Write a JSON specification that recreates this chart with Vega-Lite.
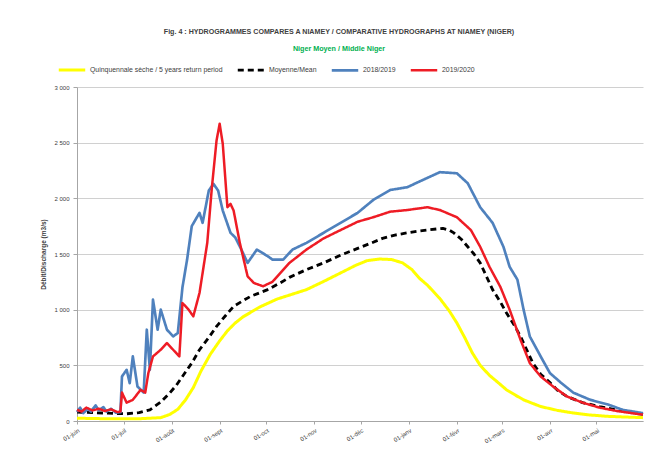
{
  "$schema": "https://vega.github.io/schema/vega-lite/v6.json",
  "width": 566,
  "height": 334,
  "autosize": {"type": "none"},
  "padding": {"left": 77, "top": 87, "right": 16, "bottom": 36},
  "background": "white",
  "title": {
    "text": "Fig. 4 : HYDROGRAMMES COMPARES A NIAMEY / COMPARATIVE HYDROGRAPHS AT NIAMEY (NIGER)",
    "subtitle": "Niger Moyen / Middle Niger",
    "anchor": "middle",
    "font": "Liberation Sans",
    "fontSize": 7.1,
    "fontWeight": "bold",
    "color": "#404040",
    "subtitleFont": "Liberation Sans",
    "subtitleFontSize": 7.2,
    "subtitleFontWeight": "bold",
    "subtitleColor": "#00b050",
    "subtitlePadding": 10,
    "offset": 3,
    "dx": -21
  },
  "config": {
    "view": {"stroke": null},
    "font": "Liberation Sans"
  },
  "data": {
    "values": [
      {"serie": "Quinquennale sèche / 5 years return period", "date": "2019-06-01", "debit": 25},
      {"serie": "Quinquennale sèche / 5 years return period", "date": "2019-06-21", "debit": 20},
      {"serie": "Quinquennale sèche / 5 years return period", "date": "2019-07-11", "debit": 20},
      {"serie": "Quinquennale sèche / 5 years return period", "date": "2019-07-25", "debit": 30},
      {"serie": "Quinquennale sèche / 5 years return period", "date": "2019-07-31", "debit": 60},
      {"serie": "Quinquennale sèche / 5 years return period", "date": "2019-08-05", "debit": 105},
      {"serie": "Quinquennale sèche / 5 years return period", "date": "2019-08-10", "debit": 190},
      {"serie": "Quinquennale sèche / 5 years return period", "date": "2019-08-15", "debit": 300},
      {"serie": "Quinquennale sèche / 5 years return period", "date": "2019-08-20", "debit": 450},
      {"serie": "Quinquennale sèche / 5 years return period", "date": "2019-08-26", "debit": 600},
      {"serie": "Quinquennale sèche / 5 years return period", "date": "2019-09-01", "debit": 720},
      {"serie": "Quinquennale sèche / 5 years return period", "date": "2019-09-06", "debit": 810},
      {"serie": "Quinquennale sèche / 5 years return period", "date": "2019-09-11", "debit": 880},
      {"serie": "Quinquennale sèche / 5 years return period", "date": "2019-09-16", "debit": 935},
      {"serie": "Quinquennale sèche / 5 years return period", "date": "2019-09-27", "debit": 1025},
      {"serie": "Quinquennale sèche / 5 years return period", "date": "2019-10-08", "debit": 1095},
      {"serie": "Quinquennale sèche / 5 years return period", "date": "2019-10-27", "debit": 1180},
      {"serie": "Quinquennale sèche / 5 years return period", "date": "2019-11-08", "debit": 1260},
      {"serie": "Quinquennale sèche / 5 years return period", "date": "2019-11-18", "debit": 1330},
      {"serie": "Quinquennale sèche / 5 years return period", "date": "2019-11-28", "debit": 1400},
      {"serie": "Quinquennale sèche / 5 years return period", "date": "2019-12-05", "debit": 1440},
      {"serie": "Quinquennale sèche / 5 years return period", "date": "2019-12-13", "debit": 1455},
      {"serie": "Quinquennale sèche / 5 years return period", "date": "2019-12-21", "debit": 1450},
      {"serie": "Quinquennale sèche / 5 years return period", "date": "2019-12-28", "debit": 1420},
      {"serie": "Quinquennale sèche / 5 years return period", "date": "2020-01-03", "debit": 1360},
      {"serie": "Quinquennale sèche / 5 years return period", "date": "2020-01-08", "debit": 1280},
      {"serie": "Quinquennale sèche / 5 years return period", "date": "2020-01-13", "debit": 1220},
      {"serie": "Quinquennale sèche / 5 years return period", "date": "2020-01-17", "debit": 1160},
      {"serie": "Quinquennale sèche / 5 years return period", "date": "2020-01-21", "debit": 1100},
      {"serie": "Quinquennale sèche / 5 years return period", "date": "2020-01-27", "debit": 990},
      {"serie": "Quinquennale sèche / 5 years return period", "date": "2020-02-01", "debit": 880},
      {"serie": "Quinquennale sèche / 5 years return period", "date": "2020-02-06", "debit": 750},
      {"serie": "Quinquennale sèche / 5 years return period", "date": "2020-02-11", "debit": 610},
      {"serie": "Quinquennale sèche / 5 years return period", "date": "2020-02-16", "debit": 500},
      {"serie": "Quinquennale sèche / 5 years return period", "date": "2020-02-22", "debit": 410},
      {"serie": "Quinquennale sèche / 5 years return period", "date": "2020-02-28", "debit": 340},
      {"serie": "Quinquennale sèche / 5 years return period", "date": "2020-03-04", "debit": 280},
      {"serie": "Quinquennale sèche / 5 years return period", "date": "2020-03-10", "debit": 230},
      {"serie": "Quinquennale sèche / 5 years return period", "date": "2020-03-15", "debit": 190},
      {"serie": "Quinquennale sèche / 5 years return period", "date": "2020-03-26", "debit": 130},
      {"serie": "Quinquennale sèche / 5 years return period", "date": "2020-04-06", "debit": 95},
      {"serie": "Quinquennale sèche / 5 years return period", "date": "2020-04-16", "debit": 72},
      {"serie": "Quinquennale sèche / 5 years return period", "date": "2020-04-26", "debit": 55},
      {"serie": "Quinquennale sèche / 5 years return period", "date": "2020-05-08", "debit": 42},
      {"serie": "Quinquennale sèche / 5 years return period", "date": "2020-05-21", "debit": 35},
      {"serie": "Quinquennale sèche / 5 years return period", "date": "2020-05-31", "debit": 30},

      {"serie": "Moyenne/Mean", "date": "2019-06-01", "debit": 80},
      {"serie": "Moyenne/Mean", "date": "2019-06-11", "debit": 75},
      {"serie": "Moyenne/Mean", "date": "2019-06-21", "debit": 70},
      {"serie": "Moyenne/Mean", "date": "2019-07-03", "debit": 65},
      {"serie": "Moyenne/Mean", "date": "2019-07-11", "debit": 75},
      {"serie": "Moyenne/Mean", "date": "2019-07-18", "debit": 100},
      {"serie": "Moyenne/Mean", "date": "2019-07-25", "debit": 170},
      {"serie": "Moyenne/Mean", "date": "2019-07-31", "debit": 255},
      {"serie": "Moyenne/Mean", "date": "2019-08-04", "debit": 320},
      {"serie": "Moyenne/Mean", "date": "2019-08-08", "debit": 400},
      {"serie": "Moyenne/Mean", "date": "2019-08-14", "debit": 520},
      {"serie": "Moyenne/Mean", "date": "2019-08-19", "debit": 640},
      {"serie": "Moyenne/Mean", "date": "2019-08-25", "debit": 750},
      {"serie": "Moyenne/Mean", "date": "2019-08-30", "debit": 850},
      {"serie": "Moyenne/Mean", "date": "2019-09-05", "debit": 950},
      {"serie": "Moyenne/Mean", "date": "2019-09-10", "debit": 1030},
      {"serie": "Moyenne/Mean", "date": "2019-09-16", "debit": 1080},
      {"serie": "Moyenne/Mean", "date": "2019-09-21", "debit": 1120},
      {"serie": "Moyenne/Mean", "date": "2019-10-02", "debit": 1180},
      {"serie": "Moyenne/Mean", "date": "2019-10-10", "debit": 1240},
      {"serie": "Moyenne/Mean", "date": "2019-10-16", "debit": 1290},
      {"serie": "Moyenne/Mean", "date": "2019-10-27", "debit": 1360},
      {"serie": "Moyenne/Mean", "date": "2019-11-07", "debit": 1420},
      {"serie": "Moyenne/Mean", "date": "2019-11-18", "debit": 1490},
      {"serie": "Moyenne/Mean", "date": "2019-11-29", "debit": 1550},
      {"serie": "Moyenne/Mean", "date": "2019-12-08", "debit": 1600},
      {"serie": "Moyenne/Mean", "date": "2019-12-15", "debit": 1640},
      {"serie": "Moyenne/Mean", "date": "2019-12-23", "debit": 1670},
      {"serie": "Moyenne/Mean", "date": "2019-12-31", "debit": 1690},
      {"serie": "Moyenne/Mean", "date": "2020-01-07", "debit": 1705},
      {"serie": "Moyenne/Mean", "date": "2020-01-13", "debit": 1715},
      {"serie": "Moyenne/Mean", "date": "2020-01-19", "debit": 1725},
      {"serie": "Moyenne/Mean", "date": "2020-01-23", "debit": 1730},
      {"serie": "Moyenne/Mean", "date": "2020-01-27", "debit": 1715},
      {"serie": "Moyenne/Mean", "date": "2020-01-30", "debit": 1690},
      {"serie": "Moyenne/Mean", "date": "2020-02-04", "debit": 1630},
      {"serie": "Moyenne/Mean", "date": "2020-02-08", "debit": 1565},
      {"serie": "Moyenne/Mean", "date": "2020-02-12", "debit": 1500},
      {"serie": "Moyenne/Mean", "date": "2020-02-16", "debit": 1420},
      {"serie": "Moyenne/Mean", "date": "2020-02-20", "debit": 1300},
      {"serie": "Moyenne/Mean", "date": "2020-02-24", "debit": 1180},
      {"serie": "Moyenne/Mean", "date": "2020-02-29", "debit": 1070},
      {"serie": "Moyenne/Mean", "date": "2020-03-04", "debit": 970},
      {"serie": "Moyenne/Mean", "date": "2020-03-09", "debit": 860},
      {"serie": "Moyenne/Mean", "date": "2020-03-13", "debit": 760},
      {"serie": "Moyenne/Mean", "date": "2020-03-17", "debit": 640},
      {"serie": "Moyenne/Mean", "date": "2020-03-21", "debit": 520},
      {"serie": "Moyenne/Mean", "date": "2020-03-26", "debit": 420},
      {"serie": "Moyenne/Mean", "date": "2020-04-01", "debit": 345},
      {"serie": "Moyenne/Mean", "date": "2020-04-06", "debit": 275},
      {"serie": "Moyenne/Mean", "date": "2020-04-12", "debit": 220},
      {"serie": "Moyenne/Mean", "date": "2020-04-22", "debit": 165},
      {"serie": "Moyenne/Mean", "date": "2020-05-03", "debit": 130},
      {"serie": "Moyenne/Mean", "date": "2020-05-14", "debit": 100},
      {"serie": "Moyenne/Mean", "date": "2020-05-25", "debit": 75},
      {"serie": "Moyenne/Mean", "date": "2020-05-31", "debit": 60},

      {"serie": "2018/2019", "date": "2019-06-01", "debit": 80},
      {"serie": "2018/2019", "date": "2019-06-03", "debit": 120},
      {"serie": "2018/2019", "date": "2019-06-05", "debit": 70},
      {"serie": "2018/2019", "date": "2019-06-08", "debit": 110},
      {"serie": "2018/2019", "date": "2019-06-10", "debit": 85},
      {"serie": "2018/2019", "date": "2019-06-13", "debit": 140},
      {"serie": "2018/2019", "date": "2019-06-15", "debit": 95},
      {"serie": "2018/2019", "date": "2019-06-18", "debit": 125},
      {"serie": "2018/2019", "date": "2019-06-20", "debit": 85},
      {"serie": "2018/2019", "date": "2019-06-23", "debit": 110},
      {"serie": "2018/2019", "date": "2019-06-26", "debit": 75},
      {"serie": "2018/2019", "date": "2019-06-29", "debit": 80},
      {"serie": "2018/2019", "date": "2019-06-30", "debit": 400},
      {"serie": "2018/2019", "date": "2019-07-03", "debit": 460},
      {"serie": "2018/2019", "date": "2019-07-05", "debit": 340},
      {"serie": "2018/2019", "date": "2019-07-07", "debit": 580},
      {"serie": "2018/2019", "date": "2019-07-10", "debit": 310},
      {"serie": "2018/2019", "date": "2019-07-14", "debit": 255},
      {"serie": "2018/2019", "date": "2019-07-16", "debit": 820},
      {"serie": "2018/2019", "date": "2019-07-18", "debit": 460},
      {"serie": "2018/2019", "date": "2019-07-20", "debit": 1090},
      {"serie": "2018/2019", "date": "2019-07-23", "debit": 820},
      {"serie": "2018/2019", "date": "2019-07-25", "debit": 1000},
      {"serie": "2018/2019", "date": "2019-07-29", "debit": 820},
      {"serie": "2018/2019", "date": "2019-08-02", "debit": 760},
      {"serie": "2018/2019", "date": "2019-08-05", "debit": 790},
      {"serie": "2018/2019", "date": "2019-08-08", "debit": 1200},
      {"serie": "2018/2019", "date": "2019-08-11", "debit": 1450},
      {"serie": "2018/2019", "date": "2019-08-14", "debit": 1750},
      {"serie": "2018/2019", "date": "2019-08-19", "debit": 1870},
      {"serie": "2018/2019", "date": "2019-08-21", "debit": 1780},
      {"serie": "2018/2019", "date": "2019-08-25", "debit": 2070},
      {"serie": "2018/2019", "date": "2019-08-28", "debit": 2130},
      {"serie": "2018/2019", "date": "2019-08-31", "debit": 2070},
      {"serie": "2018/2019", "date": "2019-09-03", "debit": 1890},
      {"serie": "2018/2019", "date": "2019-09-08", "debit": 1690},
      {"serie": "2018/2019", "date": "2019-09-11", "debit": 1650},
      {"serie": "2018/2019", "date": "2019-09-15", "debit": 1540},
      {"serie": "2018/2019", "date": "2019-09-19", "debit": 1420},
      {"serie": "2018/2019", "date": "2019-09-25", "debit": 1540},
      {"serie": "2018/2019", "date": "2019-10-02", "debit": 1480},
      {"serie": "2018/2019", "date": "2019-10-05", "debit": 1450},
      {"serie": "2018/2019", "date": "2019-10-12", "debit": 1450},
      {"serie": "2018/2019", "date": "2019-10-18", "debit": 1540},
      {"serie": "2018/2019", "date": "2019-10-27", "debit": 1600},
      {"serie": "2018/2019", "date": "2019-11-07", "debit": 1690},
      {"serie": "2018/2019", "date": "2019-11-18", "debit": 1780},
      {"serie": "2018/2019", "date": "2019-11-29", "debit": 1870},
      {"serie": "2018/2019", "date": "2019-12-09", "debit": 1985},
      {"serie": "2018/2019", "date": "2019-12-20", "debit": 2075},
      {"serie": "2018/2019", "date": "2019-12-31", "debit": 2100},
      {"serie": "2018/2019", "date": "2020-01-10", "debit": 2165},
      {"serie": "2018/2019", "date": "2020-01-21", "debit": 2235},
      {"serie": "2018/2019", "date": "2020-02-01", "debit": 2225},
      {"serie": "2018/2019", "date": "2020-02-08", "debit": 2135},
      {"serie": "2018/2019", "date": "2020-02-16", "debit": 1920},
      {"serie": "2018/2019", "date": "2020-02-24", "debit": 1780},
      {"serie": "2018/2019", "date": "2020-03-02", "debit": 1565},
      {"serie": "2018/2019", "date": "2020-03-06", "debit": 1385},
      {"serie": "2018/2019", "date": "2020-03-11", "debit": 1270},
      {"serie": "2018/2019", "date": "2020-03-15", "debit": 1000},
      {"serie": "2018/2019", "date": "2020-03-19", "debit": 760},
      {"serie": "2018/2019", "date": "2020-03-26", "debit": 580},
      {"serie": "2018/2019", "date": "2020-04-01", "debit": 430},
      {"serie": "2018/2019", "date": "2020-04-08", "debit": 345},
      {"serie": "2018/2019", "date": "2020-04-16", "debit": 255},
      {"serie": "2018/2019", "date": "2020-04-27", "debit": 190},
      {"serie": "2018/2019", "date": "2020-05-08", "debit": 150},
      {"serie": "2018/2019", "date": "2020-05-18", "debit": 100},
      {"serie": "2018/2019", "date": "2020-05-29", "debit": 75},
      {"serie": "2018/2019", "date": "2020-05-31", "debit": 70},

      {"serie": "2019/2020", "date": "2019-06-01", "debit": 100},
      {"serie": "2019/2020", "date": "2019-06-04", "debit": 85},
      {"serie": "2019/2020", "date": "2019-06-07", "debit": 120},
      {"serie": "2019/2020", "date": "2019-06-11", "debit": 95},
      {"serie": "2019/2020", "date": "2019-06-15", "debit": 110},
      {"serie": "2019/2020", "date": "2019-06-19", "debit": 90},
      {"serie": "2019/2020", "date": "2019-06-23", "debit": 105},
      {"serie": "2019/2020", "date": "2019-06-27", "debit": 80},
      {"serie": "2019/2020", "date": "2019-06-29", "debit": 85},
      {"serie": "2019/2020", "date": "2019-06-30", "debit": 255},
      {"serie": "2019/2020", "date": "2019-07-03", "debit": 165},
      {"serie": "2019/2020", "date": "2019-07-07", "debit": 190},
      {"serie": "2019/2020", "date": "2019-07-12", "debit": 280},
      {"serie": "2019/2020", "date": "2019-07-15", "debit": 255},
      {"serie": "2019/2020", "date": "2019-07-17", "debit": 430},
      {"serie": "2019/2020", "date": "2019-07-20", "debit": 580},
      {"serie": "2019/2020", "date": "2019-07-25", "debit": 640},
      {"serie": "2019/2020", "date": "2019-07-29", "debit": 700},
      {"serie": "2019/2020", "date": "2019-08-02", "debit": 640},
      {"serie": "2019/2020", "date": "2019-08-06", "debit": 580},
      {"serie": "2019/2020", "date": "2019-08-08", "debit": 1060},
      {"serie": "2019/2020", "date": "2019-08-12", "debit": 1000},
      {"serie": "2019/2020", "date": "2019-08-15", "debit": 940},
      {"serie": "2019/2020", "date": "2019-08-19", "debit": 1150},
      {"serie": "2019/2020", "date": "2019-08-24", "debit": 1600},
      {"serie": "2019/2020", "date": "2019-08-27", "debit": 2100},
      {"serie": "2019/2020", "date": "2019-08-30", "debit": 2520},
      {"serie": "2019/2020", "date": "2019-09-01", "debit": 2670},
      {"serie": "2019/2020", "date": "2019-09-03", "debit": 2490},
      {"serie": "2019/2020", "date": "2019-09-06", "debit": 1920},
      {"serie": "2019/2020", "date": "2019-09-08", "debit": 1950},
      {"serie": "2019/2020", "date": "2019-09-10", "debit": 1890},
      {"serie": "2019/2020", "date": "2019-09-14", "debit": 1600},
      {"serie": "2019/2020", "date": "2019-09-19", "debit": 1300},
      {"serie": "2019/2020", "date": "2019-09-23", "debit": 1240},
      {"serie": "2019/2020", "date": "2019-09-29", "debit": 1210},
      {"serie": "2019/2020", "date": "2019-10-05", "debit": 1250},
      {"serie": "2019/2020", "date": "2019-10-16", "debit": 1420},
      {"serie": "2019/2020", "date": "2019-10-27", "debit": 1540},
      {"serie": "2019/2020", "date": "2019-11-07", "debit": 1640},
      {"serie": "2019/2020", "date": "2019-11-18", "debit": 1715},
      {"serie": "2019/2020", "date": "2019-11-29", "debit": 1790},
      {"serie": "2019/2020", "date": "2019-12-09", "debit": 1830},
      {"serie": "2019/2020", "date": "2019-12-20", "debit": 1880},
      {"serie": "2019/2020", "date": "2019-12-31", "debit": 1895},
      {"serie": "2019/2020", "date": "2020-01-13", "debit": 1920},
      {"serie": "2019/2020", "date": "2020-01-21", "debit": 1895},
      {"serie": "2019/2020", "date": "2020-02-01", "debit": 1830},
      {"serie": "2019/2020", "date": "2020-02-10", "debit": 1715},
      {"serie": "2019/2020", "date": "2020-02-16", "debit": 1565},
      {"serie": "2019/2020", "date": "2020-02-22", "debit": 1385},
      {"serie": "2019/2020", "date": "2020-02-29", "debit": 1205},
      {"serie": "2019/2020", "date": "2020-03-06", "debit": 1000},
      {"serie": "2019/2020", "date": "2020-03-13", "debit": 730},
      {"serie": "2019/2020", "date": "2020-03-19", "debit": 520},
      {"serie": "2019/2020", "date": "2020-03-26", "debit": 400},
      {"serie": "2019/2020", "date": "2020-04-03", "debit": 310},
      {"serie": "2019/2020", "date": "2020-04-12", "debit": 220},
      {"serie": "2019/2020", "date": "2020-04-22", "debit": 165},
      {"serie": "2019/2020", "date": "2020-05-03", "debit": 120},
      {"serie": "2019/2020", "date": "2020-05-14", "debit": 90},
      {"serie": "2019/2020", "date": "2020-05-29", "debit": 60},
      {"serie": "2019/2020", "date": "2020-05-31", "debit": 58}
    ]
  },
  "mark": {"type": "line", "strokeJoin": "round"},
  "encoding": {
    "x": {
      "field": "date",
      "type": "temporal",
      "scale": {
        "type": "utc",
        "domain": [
          {"year": 2019, "month": 6, "date": 1, "utc": true},
          {"year": 2020, "month": 5, "date": 31, "utc": true}
        ]
      },
      "axis": {
        "title": null,
        "grid": false,
        "tickCount": {"interval": "month", "step": 1},
        "labelExpr": "'01-' + ['janv','févr','mars','avr','mai','juin','juil','août','sept','oct','nov','déc'][utcmonth(datum.value)]",
        "labelAngle": -32,
        "labelAlign": "right",
        "labelBaseline": "top",
        "labelFontSize": 6,
        "labelColor": "#404040",
        "labelPadding": 3,
        "labelOverlap": false,
        "labelFlush": false,
        "domainColor": "#a6a6a6",
        "tickColor": "#a6a6a6",
        "tickSize": 3
      }
    },
    "y": {
      "field": "debit",
      "type": "quantitative",
      "scale": {"domain": [0, 3000], "nice": false},
      "axis": {
        "title": "Débit/Discharge (m3/s)",
        "titleFontSize": 6.5,
        "titleFontWeight": "bold",
        "titleColor": "#404040",
        "titlePadding": 7,
        "values": [0, 500, 1000, 1500, 2000, 2500, 3000],
        "labelExpr": "replace(format(datum.value, ','), ',', ' ')",
        "labelFontSize": 6,
        "labelColor": "#404040",
        "labelPadding": 4,
        "gridColor": "#d0d0d0",
        "domainColor": "#a6a6a6",
        "tickColor": "#a6a6a6",
        "tickSize": 4
      }
    },
    "color": {
      "field": "serie",
      "type": "nominal",
      "sort": null,
      "scale": {
        "domain": ["Quinquennale sèche / 5 years return period", "Moyenne/Mean", "2018/2019", "2019/2020"],
        "range": ["#ffff00", "#000000", "#4f81bd", "#ee1c25"]
      },
      "legend": {
        "title": null,
        "orient": "none",
        "legendX": -20,
        "legendY": -32,
        "direction": "horizontal",
        "columns": 4,
        "symbolType": "stroke",
        "symbolSize": 700,
        "symbolStrokeWidth": 2.5,
        "labelFontSize": 6.9,
        "labelColor": "#404040",
        "labelOffset": 3,
        "columnPadding": 9,
        "labelLimit": 300
      }
    },
    "strokeDash": {
      "field": "serie",
      "type": "nominal",
      "sort": null,
      "scale": {
        "domain": ["Quinquennale sèche / 5 years return period", "Moyenne/Mean", "2018/2019", "2019/2020"],
        "range": [[1, 0], [6, 4], [1, 0], [1, 0]]
      },
      "legend": {
        "title": null,
        "orient": "none",
        "legendX": -20,
        "legendY": -32,
        "direction": "horizontal",
        "columns": 4,
        "symbolType": "stroke",
        "symbolSize": 700,
        "symbolStrokeWidth": 2.5,
        "labelFontSize": 6.9,
        "labelColor": "#404040",
        "labelOffset": 3,
        "columnPadding": 9,
        "labelLimit": 300
      }
    },
    "strokeWidth": {
      "field": "serie",
      "type": "nominal",
      "sort": null,
      "scale": {
        "domain": ["Quinquennale sèche / 5 years return period", "Moyenne/Mean", "2018/2019", "2019/2020"],
        "range": [3, 2.5, 1.6, 2]
      },
      "legend": null
    }
  }
}
